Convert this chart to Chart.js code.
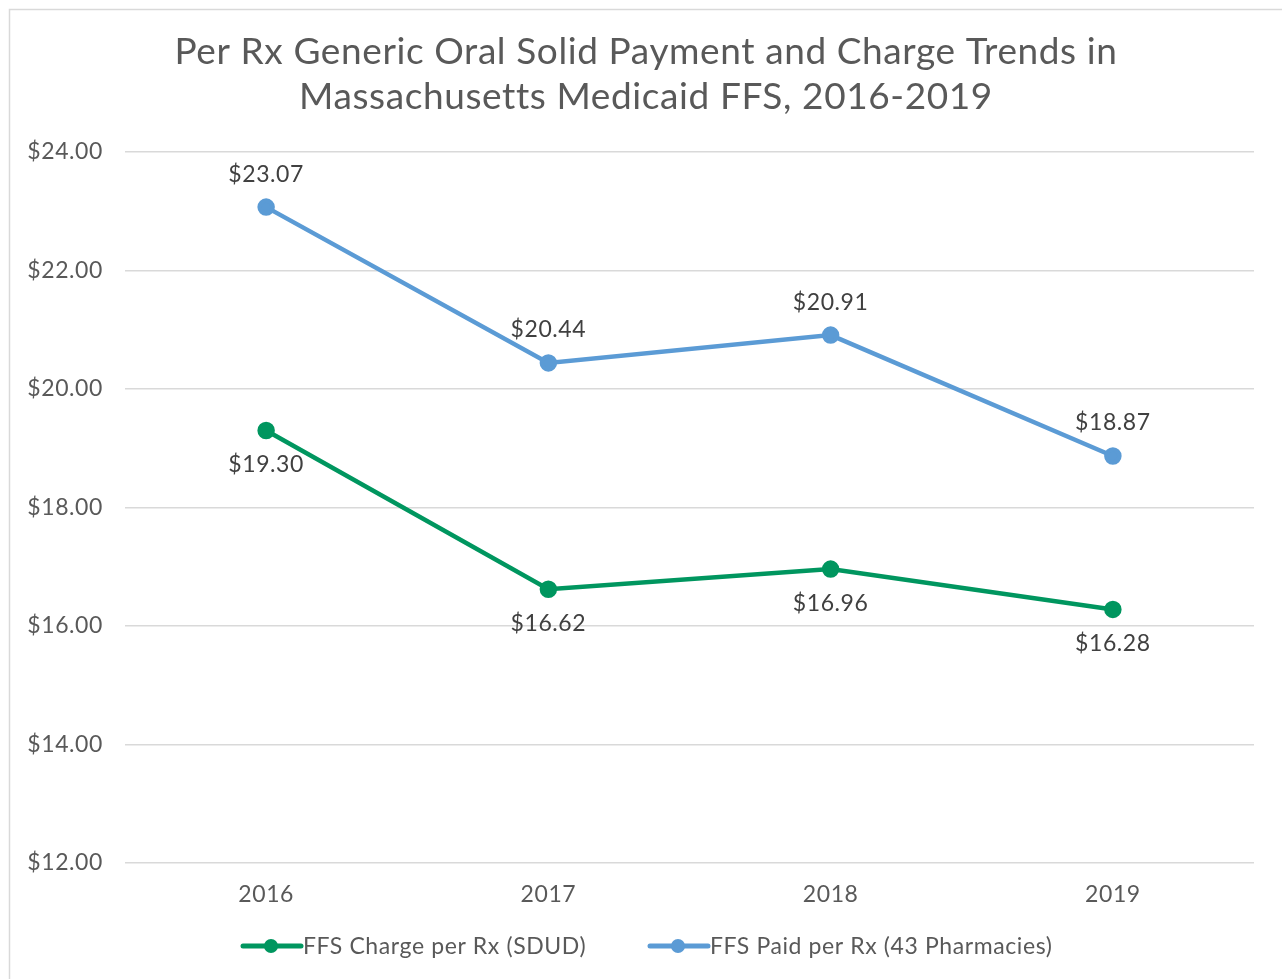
<!DOCTYPE html>
<html>
<head>
<meta charset="utf-8">
<script src="https://cdn.jsdelivr.net/npm/chart.js"></script>
<style>
  body { margin: 0; background: #fff; }
  #wrap { width: 1282px; height: 979px; }
</style>
</head>
<body>
<div id="wrap"><canvas id="trendChart" width="1282" height="979"></canvas></div>
<script>
const years = ["2016", "2017", "2018", "2019"]
const chargeValues = [19.30, 16.62, 16.96, 16.28]
const paidValues = [23.07, 20.44, 20.91, 18.87]
const seriesNames = ["FFS Charge per Rx (SDUD)", "FFS Paid per Rx (43 Pharmacies)"]
const titleLines = ["Per Rx Generic Oral Solid Payment and Charge Trends in", "Massachusetts Medicaid FFS, 2016-2019"]

const green = "#00965f"
const blue = "#5b9bd5"
const fontName = "Lato, 'Noto Sans', sans-serif"
const spacing = "0.6px"
const money = v => "$" + Number(v).toFixed(2)

// title, frame, legend and value labels
const extras = {
    id: "extras",
    beforeDraw(chart) {
        const ctx = chart.ctx
        ctx.save()
        ctx.strokeStyle = "#d9d9d9"
        ctx.lineWidth = 1.5
        ctx.strokeRect(9.5, 9.5, 1300, 1000)
        ctx.restore()
        ctx.letterSpacing = spacing
    },
    afterDatasetsDraw(chart) {
        const ctx = chart.ctx
        ctx.save()
        ctx.letterSpacing = spacing
        ctx.textAlign = "center"
        ctx.textBaseline = "middle"
        // title
        ctx.fillStyle = "#595959"
        ctx.font = "37px " + fontName
        titleLines.forEach((t, i) => ctx.fillText(t, 646, 52 + i * 45))
        // value labels
        ctx.font = "23px " + fontName
        ctx.fillStyle = "#404040"
        chart.data.datasets.forEach((ds, di) => {
            const meta = chart.getDatasetMeta(di)
            meta.data.forEach((pt, i) => {
                const dy = di === 0 ? 34 : -33
                ctx.fillText(money(ds.data[i]), pt.x, pt.y + dy)
            })
        })
        // legend
        const items = [{x: 243, color: green, text: seriesNames[0]}, {x: 650, color: blue, text: seriesNames[1]}]
        const ly = 946
        ctx.textAlign = "left"
        items.forEach(it => {
            ctx.strokeStyle = it.color
            ctx.lineWidth = 5
            ctx.lineCap = "round"
            ctx.beginPath()
            ctx.moveTo(it.x, ly)
            ctx.lineTo(it.x + 58, ly)
            ctx.stroke()
            ctx.fillStyle = it.color
            ctx.beginPath()
            ctx.arc(it.x + 28, ly, 7, 0, Math.PI * 2)
            ctx.fill()
            ctx.fillStyle = "#595959"
            ctx.font = "23px " + fontName
            ctx.fillText(it.text, it.x + 60, ly + 1)
        })
        ctx.restore()
    },
    afterDraw(chart) {
        chart.ctx.letterSpacing = "0px"
    }
}

const ctx = document.getElementById("trendChart").getContext("2d")
const trendChart = new Chart(ctx, {
    type: "line",
    data: {
        labels: years,
        datasets: [{
            label: seriesNames[0],
            data: chargeValues,
            borderColor: green,
            backgroundColor: green,
            borderWidth: 4.5,
            pointRadius: 6.5,
            pointHoverRadius: 6.5,
            tension: 0
        }, {
            label: seriesNames[1],
            data: paidValues,
            borderColor: blue,
            backgroundColor: blue,
            borderWidth: 4.5,
            pointRadius: 6.5,
            pointHoverRadius: 6.5,
            tension: 0
        }]
    },
    options: {
        responsive: false,
        animation: false,
        layout: { padding: { left: 0, right: 28, top: 152, bottom: 0 } },
        plugins: {
            legend: { display: false },
            title: { display: false },
            tooltip: { enabled: false }
        },
        scales: {
            x: {
                offset: true,
                grid: { display: false },
                border: { display: false },
                ticks: { color: "#595959", font: { family: fontName, size: 23 }, padding: 10 },
                afterFit: s => { s.height = 116 }
            },
            y: {
                min: 12,
                max: 24,
                grid: { color: "#d9d9d9", lineWidth: 1.5, drawTicks: false },
                border: { display: false },
                ticks: {
                    stepSize: 2,
                    color: "#595959",
                    font: { family: fontName, size: 23 },
                    padding: 22,
                    callback: v => money(v)
                },
                afterFit: s => { s.width = 125 }
            }
        }
    },
    plugins: [extras]
})
</script>
</body>
</html>
